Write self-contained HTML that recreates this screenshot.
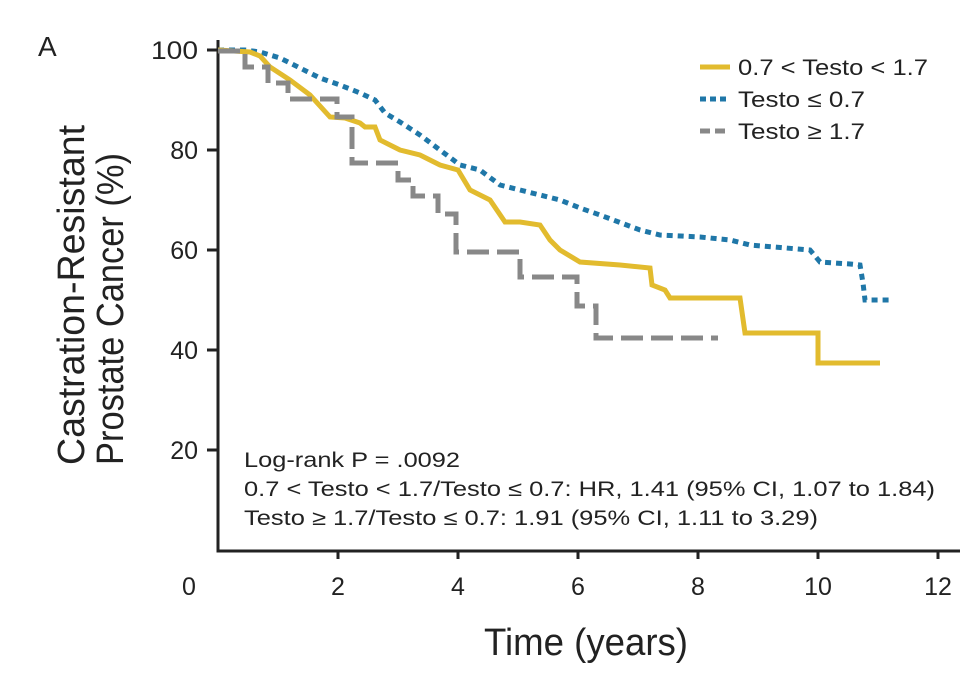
<!DOCTYPE html>
<html><head><style>body{margin:0;background:#fff}</style></head><body>
<svg width="976" height="675" xmlns="http://www.w3.org/2000/svg" font-family="Liberation Sans, sans-serif">
<rect width="976" height="675" fill="#fff"/>
<text x="38" y="56" font-size="28" fill="#222">A</text>
<g stroke="#222" stroke-width="3" fill="none">
<path d="M218,40 V551 H960"/>
<path d="M207,50H218M207,150H218M207,250H218M207,350H218M207,450H218"/>
<path d="M338,551V559M458,551V559M578,551V559M698,551V559M818,551V559M938,551V559"/>
</g>
<g font-size="25" fill="#222" text-anchor="end">
<text x="198" y="59" textLength="47" lengthAdjust="spacingAndGlyphs">100</text><text x="198" y="159">80</text><text x="198" y="259">60</text><text x="198" y="359">40</text><text x="198" y="459">20</text>
</g>
<g font-size="25" fill="#222" text-anchor="middle">
<text x="189" y="595">0</text><text x="338" y="595">2</text><text x="458" y="595">4</text><text x="578" y="595">6</text><text x="698" y="595">8</text><text x="818" y="595">10</text><text x="938" y="595">12</text>
</g>
<text x="484" y="655" font-size="38" fill="#222" textLength="204" lengthAdjust="spacingAndGlyphs">Time (years)</text>
<g transform="translate(84,465) rotate(-90)" font-size="38" fill="#222">
<text x="0" y="0" textLength="340" lengthAdjust="spacingAndGlyphs">Castration-Resistant</text>
<text x="0" y="39" textLength="312" lengthAdjust="spacingAndGlyphs">Prostate Cancer (%)</text>
</g>
<g font-size="21" fill="#222">
<text x="244" y="467" textLength="216" lengthAdjust="spacingAndGlyphs">Log-rank P = .0092</text>
<text x="244" y="496" textLength="691" lengthAdjust="spacingAndGlyphs">0.7 &lt; Testo &lt; 1.7/Testo ≤ 0.7: HR, 1.41 (95% CI, 1.07 to 1.84)</text>
<text x="244" y="525" textLength="574" lengthAdjust="spacingAndGlyphs">Testo ≥ 1.7/Testo ≤ 0.7: 1.91 (95% CI, 1.11 to 3.29)</text>
</g>
<polyline fill="none" stroke="#1f77a8" stroke-width="5" stroke-dasharray="6,5" points="218,50 245,50 260,52 280,58 300,68 320,78 340,85 360,93 375,100 385,113 400,122 420,135 440,150 460,165 480,170 500,185 520,190 540,195 560,200 580,208 600,215 640,230 660,235 700,237 730,240 750,245 810,250 820,262 850,264 860,265 863,283 865,300 890,300"/>
<polyline fill="none" stroke="#e2bb2e" stroke-width="5" points="218,50 250,52 260,56 270,67 290,80 310,95 330,117 345,118 360,123 365,127 375,127 380,140 390,145 400,150 420,155 440,165 458,170 470,190 490,200 505,222 520,222 540,225 550,240 560,250 580,262 620,265 650,268 652,285 665,290 670,298 740,298 745,333 818,333 818,363 880,363"/>
<polyline fill="none" stroke="#888" stroke-width="5" stroke-dasharray="22,8" points="218,51 245,51 245,67 268,67 268,83 288,83 288,99 337,99 337,117 352,117 352,163 398,163 398,180 413,180 413,196 438,196 438,214 456,214 456,252 520,252 520,277 577,277 577,306 596,306 596,338 718,338"/>
<g stroke-width="5" fill="none">
<line x1="700" y1="67" x2="730" y2="67" stroke="#e2bb2e"/>
<line x1="700" y1="99" x2="730" y2="99" stroke="#1f77a8" stroke-dasharray="6,4"/>
<line x1="700" y1="131" x2="730" y2="131" stroke="#888" stroke-dasharray="10,5"/>
</g>
<g font-size="22" fill="#222">
<text x="738" y="75" textLength="190" lengthAdjust="spacingAndGlyphs">0.7 &lt; Testo &lt; 1.7</text>
<text x="738" y="107" textLength="127" lengthAdjust="spacingAndGlyphs">Testo ≤ 0.7</text>
<text x="738" y="139" textLength="127" lengthAdjust="spacingAndGlyphs">Testo ≥ 1.7</text>
</g>
</svg>
</body></html>
